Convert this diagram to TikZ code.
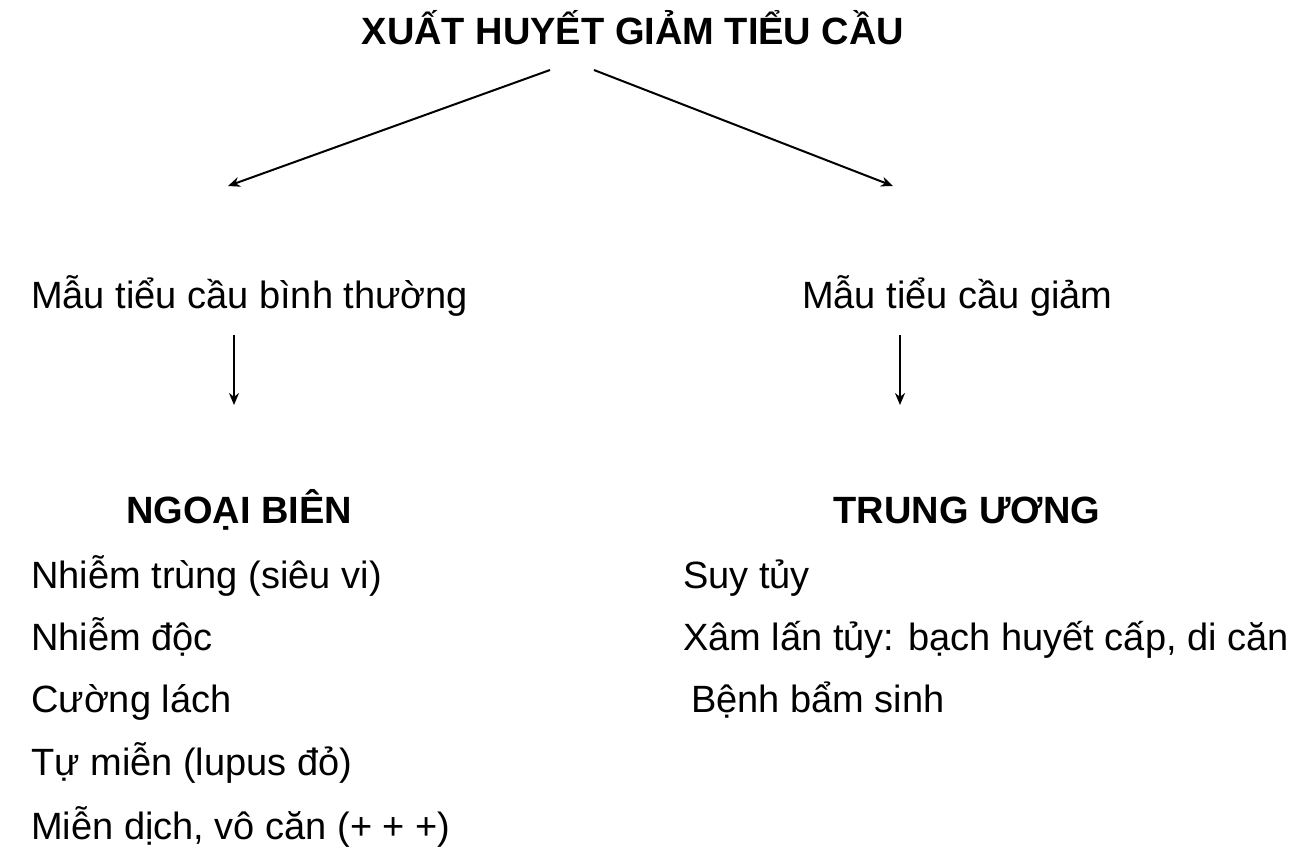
\documentclass[tikz,border=0pt]{standalone}
\usepackage{fontspec}
\setmainfont{Liberation Sans}
\usetikzlibrary{arrows.meta,positioning}
\tikzset{
    txt/.style={anchor=base west, inner sep=0pt, font=\fontsize{38}{44}\selectfont},
    head/.style={anchor=base, inner sep=0pt, font=\fontsize{38}{44}\selectfont\bfseries},
    branch/.style={draw=black, line width=2pt, -{Stealth[length=12pt,width=10pt]}},
}
\begin{document}
\begin{tikzpicture}[x=1pt, y=-1pt]
	\useasboundingbox (0,0) rectangle (1308,855);
	\node[head] (top) at (633,44) {XUẤT HUYẾT GIẢM TIỂU CẦU};
	\coordinate (tl) at (550,70);
	\coordinate (tr) at (594,70);
	\coordinate (al) at (228,186);
	\coordinate (ar) at (893,186);
	\draw[branch] (tl)--(al);
	\draw[branch] (tr)--(ar);
	\node[txt] (normal) at (31,308) {Mẫu tiểu cầu bình thường};
	\node[txt] (low) at (802,308) {Mẫu tiểu cầu giảm};
	\coordinate (nl1) at (234,335);
	\coordinate (nl2) at (234,405);
	\coordinate (nr1) at (900,335);
	\coordinate (nr2) at (900,405);
	\draw[branch] (nl1)--(nl2);
	\draw[branch] (nr1)--(nr2);
	\node[head] (periph) at (239,523) {NGOẠI BIÊN};
	\node[head] (central) at (967,523) {TRUNG ƯƠNG};
	% left list
	\node[txt] (p1) at (31,588) {Nhiễm trùng (siêu vi)};
	\node[txt] (p2) at (31,650) {Nhiễm độc};
	\node[txt] (p3) at (31,712) {Cường lách};
	\node[txt] (p4) at (31,775) {Tự miễn (lupus đỏ)};
	\node[txt] (p5) at (31,839) {Miễn dịch, vô căn (+ + +)};
	% right list
	\node[txt] (c1) at (683,588) {Suy tủy};
	\node[txt] (c2) at (683,650) {Xâm lấn tủy: bạch huyết cấp, di căn};
	\node[txt] (c3) at (691,712) {Bệnh bẩm sinh};
\end{tikzpicture}
\end{document}
